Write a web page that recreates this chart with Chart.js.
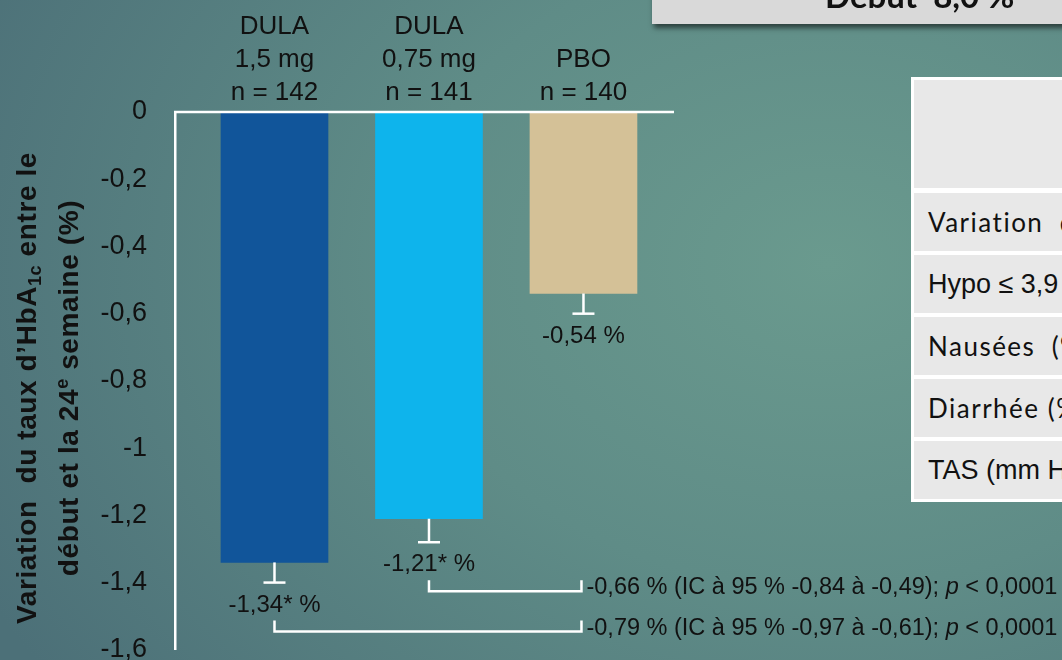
<!DOCTYPE html>
<html lang="fr">
<head>
<meta charset="utf-8">
<title>HbA1c – 24e semaine</title>
<script src="https://cdn.jsdelivr.net/npm/chart.js@4.4.1/dist/chart.umd.min.js"></script>
<style>
  html, body { margin: 0; padding: 0; }
  body {
    width: 1062px; height: 660px; overflow: hidden; position: relative;
    background: radial-gradient(ellipse 950px 720px at 78% 40%, #6a9a8e 0%, #5f8c87 45%, #4c7078 100%);
  }
  #chart { position: absolute; left: 0; top: 0; }
  .box {
    position: absolute; left: 652px; top: -30px; width: 430px; height: 54px;
    background: #d9d9d9; box-shadow: 2px 4px 5px rgba(0, 0, 0, .55);
  }
  .box span {
    position: absolute; left: 173px; top: 5px; line-height: 33px;
    font: bold 33px Lato, sans-serif; color: #111; white-space: pre;
  }
  .tbl { position: absolute; left: 911px; top: 77px; width: 600px; height: 425px; background: #fff; }
  .row {
    position: absolute; left: 3px; right: 0; background: #e8e8e8; color: #111;
    padding-left: 14px; white-space: pre; font-size: 26px;
  }
  .geo { font-family: Lato, sans-serif; letter-spacing: 1.5px; }
  .ari { font-family: Arial, "Liberation Sans", sans-serif; font-size: 27px; }
</style>
</head>
<body>
<canvas id="chart" width="1062" height="694"></canvas>

<div class="box"><span>Début  8,0 %</span></div>

<div class="tbl">
  <div class="row" style="top:3px;height:108px"></div>
  <div class="row geo" style="top:116px;height:58px;line-height:58px">Variation  de l’HbA1c (%)</div>
  <div class="row ari" style="top:178px;height:58px;line-height:58px">Hypo ≤ 3,9 mmol/l (%)</div>
  <div class="row geo" style="top:240px;height:58px;line-height:58px">Nausées  (%)</div>
  <div class="row geo" style="top:302px;height:58px;line-height:58px">Diarrhée (%)</div>
  <div class="row ari" style="top:364px;height:58px;line-height:58px">TAS (mm Hg)</div>
</div>

<script>
const SANS = 'Arial, "Liberation Sans", sans-serif';

// groups shown above the bars
const groups = [
  ['DULA', '1,5 mg', 'n = 142'],
  ['DULA', '0,75 mg', 'n = 141'],
  ['PBO', 'n = 140']
];
const change = [-1.34, -1.21, -0.54];   // LS mean change in HbA1c (%)
const stdErr = [0.06, 0.07, 0.06];
const signif = ['*', '*', ''];
const barColors = ['#11559a', '#0eb4ec', '#d4c197'];
const yTicks = [0, -0.2, -0.4, -0.6, -0.8, -1, -1.2, -1.4, -1.6];

// treatment differences vs placebo
const diffs = [
  { from: 1, text: '-0,66 % (IC à 95 % -0,84 à -0,49); ' },
  { from: 0, text: '-0,79 % (IC à 95 % -0,97 à -0,61); ' }
];
const pText = ['p', ' < 0,0001'];

const yTitle = [
  [{ t: 'Variation  du taux d’HbA' }, { t: '1c', sub: true }, { t: ' entre le' }],
  [{ t: 'début et la 24' }, { t: 'e', sup: true }, { t: ' semaine (%)' }]
];

const fmt = v => String(Math.round(v * 100) / 100).replace('.', ',');

function seg(ctx, x1, y1, x2, y2) {
  ctx.beginPath();
  ctx.moveTo(x1, y1);
  ctx.lineTo(x2, y2);
  ctx.stroke();
}

const annot = {
  id: 'annot',
  afterDatasetsDraw(chart) {
    const { ctx, chartArea, scales: { x, y } } = chart;
    ctx.save();

    // zero line on top of the bars
    ctx.strokeStyle = '#fff';
    ctx.lineWidth = 2.5;
    const y0 = y.getPixelForValue(0);
    seg(ctx, chartArea.left - 1, y0, chartArea.right, y0);

    // group headers
    ctx.fillStyle = '#111';
    ctx.textAlign = 'center';
    ctx.textBaseline = 'alphabetic';
    ctx.font = '26px ' + SANS;
    groups.forEach((lines, i) => {
      const cx = x.getPixelForValue(i);
      lines.slice().reverse().forEach((t, k) => ctx.fillText(t, cx, chartArea.top - 12 - k * 33));
    });

    // whiskers (lower side only) and value labels
    change.forEach((v, i) => {
      const cx = x.getPixelForValue(i);
      const yb = y.getPixelForValue(v);
      const ye = y.getPixelForValue(v - stdErr[i]);
      seg(ctx, cx, yb, cx, ye);
      seg(ctx, cx - 11, ye, cx + 11, ye);
      ctx.font = '24px ' + SANS;
      ctx.fillText(fmt(v) + signif[i] + ' %', cx, ye + 29);
    });

    // brackets to the difference text
    const right = x.getPixelForValue(2) - 2;
    diffs.forEach(d => {
      const i = d.from;
      const cx = x.getPixelForValue(i);
      const top = y.getPixelForValue(change[i] - stdErr[i]) + 38;
      const bot = top + 11;
      ctx.beginPath();
      ctx.moveTo(cx, top);
      ctx.lineTo(cx, bot);
      ctx.lineTo(right, bot);
      ctx.lineTo(right, top);
      ctx.stroke();

      ctx.textAlign = 'left';
      let tx = right + 5;
      const ty = bot + 3;
      ctx.font = '23.5px ' + SANS;
      ctx.fillText(d.text, tx, ty);
      tx += ctx.measureText(d.text).width;
      ctx.font = 'italic 23.5px ' + SANS;
      ctx.fillText(pText[0], tx, ty);
      tx += ctx.measureText(pText[0]).width;
      ctx.font = '23.5px ' + SANS;
      ctx.fillText(pText[1], tx, ty);
    });

    // rotated y-axis title, two lines with sub/superscript
    const big = 'bold 28px ' + SANS, small = 'bold 18px ' + SANS;
    const baseX = [36, 78];
    const cy = 388;
    ctx.letterSpacing = '0.6px';
    yTitle.forEach((parts, li) => {
      ctx.save();
      ctx.translate(baseX[li], cy);
      ctx.rotate(-Math.PI / 2);
      let total = 0;
      parts.forEach(p => { ctx.font = (p.sub || p.sup) ? small : big; total += ctx.measureText(p.t).width; });
      let px = -total / 2;
      ctx.textAlign = 'left';
      parts.forEach(p => {
        ctx.font = (p.sub || p.sup) ? small : big;
        const dy = p.sub ? 5 : (p.sup ? -10 : 0);
        ctx.fillText(p.t, px, dy);
        px += ctx.measureText(p.t).width;
      });
      ctx.restore();
    });

    ctx.restore();
  }
};

new Chart(document.getElementById('chart'), {
  type: 'bar',
  data: {
    datasets: [{
      data: change.map((v, i) => ({ x: i, y: v })),
      backgroundColor: barColors,
      barThickness: 107
    }]
  },
  options: {
    responsive: false,
    animation: false,
    devicePixelRatio: 1,
    layout: { padding: { left: 0, top: 112, right: 388, bottom: 16 } },
    plugins: { legend: { display: false }, tooltip: { enabled: false } },
    scales: {
      x: { type: 'linear', min: -0.644, max: 2.586, offset: false, display: false },
      y: {
        min: -1.6,
        max: 0,
        afterBuildTicks: s => { s.ticks = yTicks.map(v => ({ value: v })); },
        afterFit: s => { s.width = 175; },
        ticks: { color: '#111', padding: 28, font: { family: SANS, size: 27 }, callback: v => fmt(v) },
        grid: { display: false, drawTicks: false },
        border: { display: true, color: '#fff', width: 2.5 }
      }
    }
  },
  plugins: [annot]
});
</script>
</body>
</html>
